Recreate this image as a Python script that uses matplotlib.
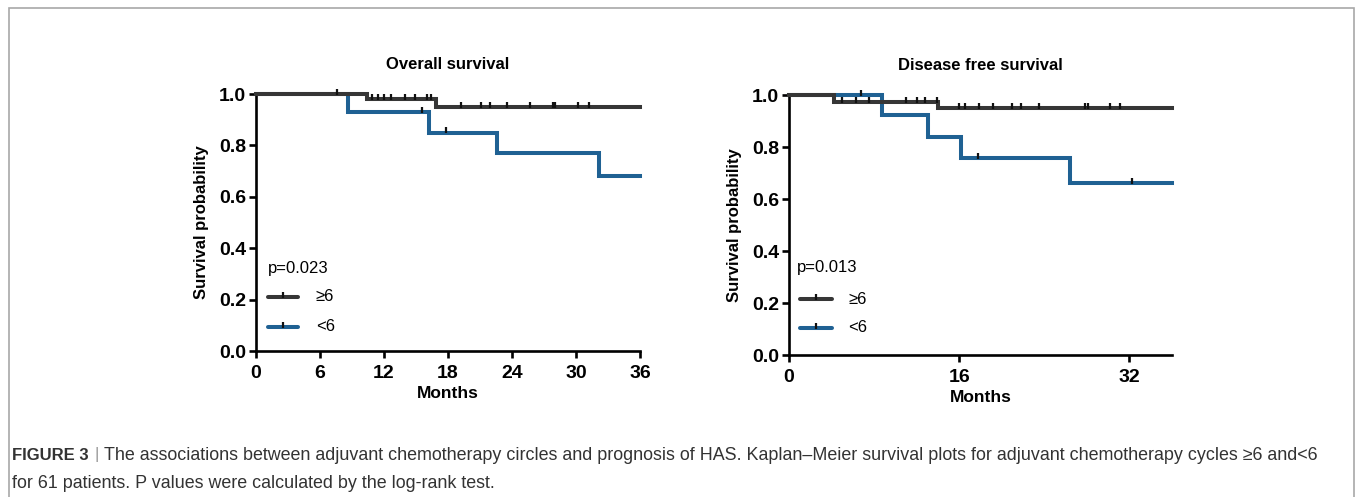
import matplotlib
matplotlib.use("Agg")
import matplotlib.pyplot as plt
from matplotlib.patches import Rectangle
import numpy as np

plt.rcParams['font.family'] = ['Liberation Sans', 'DejaVu Sans']

# ---------------- data ----------------
os_titles = "Overall survival"
dfs_titles = "Disease free survival"

os_ge6_event_t = [10.4, 16.9]
os_ge6_event_s = [0.98, 0.95]
os_ge6_cens_t = [7.6, 10.9, 11.4, 12.0, 12.7, 14.0, 14.9, 16.0, 16.4,
                 19.2, 21.1, 21.9, 23.5, 25.7, 27.8, 28.0, 30.2, 31.2]
os_lt6_event_t = [8.65, 16.2, 22.6, 32.2]
os_lt6_event_s = [0.93, 0.85, 0.77, 0.68]
os_lt6_cens_t = [15.6, 17.8]

dfs_ge6_event_t = [4.25, 14.0]
dfs_ge6_event_s = [0.974, 0.949]
dfs_ge6_cens_t = [5.0, 6.3, 7.5, 11.0, 12.0, 12.8, 13.9, 16.0, 16.5,
                  17.9, 19.2, 21.0, 21.8, 23.5, 27.8, 28.1, 30.2, 31.1]
dfs_lt6_event_t = [8.7, 13.1, 16.2, 26.4]
dfs_lt6_event_s = [0.923, 0.84, 0.759, 0.663]
dfs_lt6_cens_t = [6.8, 17.8, 32.2]

os_xticks = [0, 6, 12, 18, 24, 30, 36]
dfs_xticks = [0, 16, 32]
yticks = [0.0, 0.2, 0.4, 0.6, 0.8, 1.0]
groups = ["≥6", "<6"]
os_p = "p=0.023"
dfs_p = "p=0.013"
x_end = 36

BLACK = '#363636'
BLUE = '#1f6193'
CENS = '#111111'

W, H = 1360, 497
fig = plt.figure(figsize=(W / 100, H / 100), dpi=100)

# frame around the figure panel
fig.patches.append(Rectangle((9 / W, -0.05), (1354 - 9) / W, 1 - 8 / H + 0.05,
                             transform=fig.transFigure, fill=False,
                             edgecolor='#a8a8a8', linewidth=1.2))


def surv_at(t, ev_t, ev_s):
    s = 1.0
    for et, es in zip(ev_t, ev_s):
        if t >= et:
            s = es
    return s


def draw_curve(ax, ev_t, ev_s, cens_t, color, z):
    x = [0] + list(ev_t) + [x_end]
    y = [1.0] + list(ev_s) + [ev_s[-1]]
    ax.step(x, y, where='post', color=color, lw=2.9, zorder=z,
            solid_joinstyle='miter', clip_on=False)
    cy = [surv_at(t, ev_t, ev_s) + 0.008 for t in cens_t]
    ax.plot(cens_t, cy, ls='none', marker='|', ms=5, mew=1.6,
            color=CENS, zorder=z + 0.5, clip_on=False)


def style_axes(ax, xticks, title):
    ax.set_xlim(0, x_end)
    ax.set_ylim(0, 1.0)
    ax.set_xticks(xticks)
    ax.set_yticks(yticks)
    ax.set_yticklabels([f"{v:.1f}" for v in yticks])
    for s in ['top', 'right']:
        ax.spines[s].set_visible(False)
    for s in ['left', 'bottom']:
        ax.spines[s].set_linewidth(1.9)
        ax.spines[s].set_color('black')
    ax.tick_params(axis='both', length=5, width=1.9, labelsize=14,
                   direction='out')
    ax.tick_params(axis='x', pad=5)
    ax.tick_params(axis='y', pad=2)
    for lab in ax.get_xticklabels() + ax.get_yticklabels():
        lab.set_fontweight('bold')
    ax.set_title(title, fontsize=12, fontweight='bold', pad=18)
    ax.set_ylabel("Survival probability", fontsize=12, fontweight='bold',
                  labelpad=7)
    ax.set_xlabel("Months", fontsize=12.5, fontweight='bold', labelpad=3)


def draw_legend(ax, ptxt, px, py, y1, y2, lx0, lx1, tx):
    ax.text(px, py, ptxt, transform=ax.transAxes, fontsize=12,
            va='center', ha='left')
    for yy, col, lab in [(y1, BLACK, groups[0]), (y2, BLUE, groups[1])]:
        ax.plot([lx0, lx1], [yy, yy], transform=ax.transAxes, color=col,
                lw=2.9, clip_on=False, solid_capstyle='round')
        ax.plot([(lx0 + lx1) / 2], [yy + 0.008], transform=ax.transAxes,
                marker='|', ms=5, mew=1.6, color=CENS, clip_on=False)
        ax.text(tx, yy, lab, transform=ax.transAxes, fontsize=12,
                va='center', ha='left')


# left panel
ax1 = fig.add_axes([256 / W, (H - 351) / H, 384 / W, 257 / H])
draw_curve(ax1, os_lt6_event_t, os_lt6_event_s, os_lt6_cens_t, BLUE, 3)
draw_curve(ax1, os_ge6_event_t, os_ge6_event_s, os_ge6_cens_t, BLACK, 4)
style_axes(ax1, os_xticks, os_titles)
draw_legend(ax1, os_p, 0.031, 0.32, 0.211, 0.094, 0.031, 0.109, 0.156)

# right panel
ax2 = fig.add_axes([789 / W, (H - 355) / H, 383 / W, 260 / H])
draw_curve(ax2, dfs_lt6_event_t, dfs_lt6_event_s, dfs_lt6_cens_t, BLUE, 3)
draw_curve(ax2, dfs_ge6_event_t, dfs_ge6_event_s, dfs_ge6_cens_t, BLACK, 4)
style_axes(ax2, dfs_xticks, dfs_titles)
draw_legend(ax2, dfs_p, 0.021, 0.335, 0.215, 0.104, 0.029, 0.112, 0.154)

# caption
cap_col = '#333333'
fig.text(12 / W, 1 - 455 / H, "FIGURE 3", fontsize=12, fontweight='bold',
         color=cap_col, va='center', ha='left')
fig.text(95 / W, 1 - 455 / H, "|", fontsize=12, color='#999999',
         va='center', ha='left')
t1 = fig.text(104 / W, 1 - 455 / H,
              "The associations between adjuvant chemotherapy circles and prognosis of HAS. "
              "Kaplan\u2013Meier survival plots for adjuvant chemotherapy cycles \u22656 and<6",
              fontsize=12, color=cap_col, va='center', ha='left')
t2 = fig.text(12 / W, 1 - 483 / H,
              "for 61 patients. P values were calculated by the log-rank test.",
              fontsize=12, color=cap_col, va='center', ha='left')

# scale caption font so first line ends where the reference ends
fig.canvas.draw()
r = fig.canvas.get_renderer()
bb = t1.get_window_extent(r)
target = 1318 - 104
fs = 12 * target / bb.width
t1.set_fontsize(fs)
t2.set_fontsize(fs)

fig.savefig("out.png", dpi=100)
